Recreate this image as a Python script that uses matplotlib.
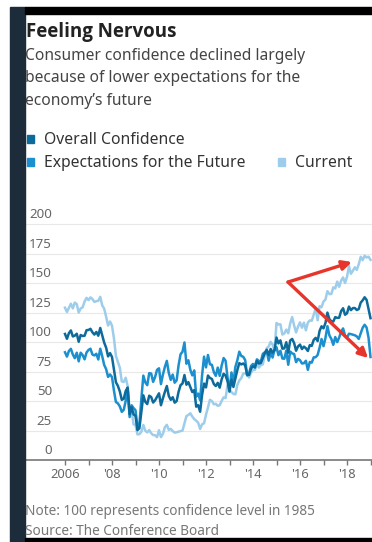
import numpy as np
import matplotlib
matplotlib.use("Agg")
import matplotlib.pyplot as plt
from matplotlib.patches import Rectangle
import matplotlib.transforms as mtransforms

# monthly readings, Jan 2006 - Jan 2019 (1985 = 100)
overall = [
    106.8, 102.7, 107.5, 109.8, 104.7, 105.4, 107.0, 100.2, 105.9, 105.1, 105.3, 110.0,
    110.2, 111.2, 108.2, 106.3, 108.5, 105.3, 111.9, 105.6, 99.5, 95.2, 87.8, 90.6,
    87.3, 76.4, 65.9, 62.8, 58.1, 51.0, 51.9, 58.5, 61.4, 38.8, 44.7, 38.6,
    37.4, 25.3, 26.9, 40.8, 54.8, 49.3, 47.4, 54.5, 53.4, 48.7, 50.6, 53.6,
    56.5, 46.4, 52.3, 57.7, 62.7, 54.3, 51.0, 53.2, 48.6, 49.9, 57.8, 63.4,
    64.8, 72.0, 63.8, 66.0, 61.7, 57.6, 59.2, 45.2, 46.4, 40.9, 55.2, 64.8,
    61.5, 71.6, 69.5, 68.7, 64.4, 62.7, 65.4, 61.3, 68.4, 73.1, 71.5, 66.7,
    58.4, 68.0, 61.9, 69.0, 76.2, 82.1, 81.0, 81.8, 80.2, 72.4, 72.0, 77.5,
    79.4, 78.3, 83.9, 81.7, 82.2, 86.4, 90.3, 93.4, 89.0, 94.1, 91.0, 93.1,
    103.8, 98.8, 101.4, 94.3, 94.6, 99.8, 91.0, 101.3, 102.6, 99.1, 92.6, 96.3,
    97.8, 94.0, 96.1, 94.7, 92.4, 97.4, 96.7, 101.8, 103.5, 100.8, 109.4, 113.3,
    111.6, 116.1, 124.9, 119.4, 117.6, 117.3, 121.1, 120.4, 120.6, 126.2, 128.6, 123.1,
    124.3, 130.0, 127.0, 128.7, 128.8, 127.1, 127.9, 133.4, 135.3, 137.9, 135.7, 128.1,
    120.2,
]
expectations = [
    91.3, 87.6, 92.4, 94.2, 89.4, 86.3, 90.9, 83.6, 90.9, 88.9, 85.3, 91.1,
    93.3, 94.3, 89.4, 88.6, 90.0, 85.2, 94.3, 88.0, 80.6, 77.0, 70.4, 72.5,
    70.3, 58.8, 49.1, 48.0, 45.4, 40.8, 42.5, 50.1, 60.0, 36.4, 46.4, 44.0,
    42.2, 27.9, 30.2, 51.9, 71.5, 65.8, 63.4, 73.6, 73.3, 66.2, 70.3, 76.4,
    77.7, 64.3, 72.4, 78.9, 84.0, 73.8, 67.9, 72.4, 65.5, 67.5, 80.3, 89.6,
    91.7, 99.6, 81.6, 84.5, 76.4, 71.7, 75.9, 53.7, 56.3, 50.6, 71.8, 87.6,
    78.5, 89.0, 81.1, 80.7, 74.5, 71.3, 78.3, 71.3, 80.1, 86.4, 84.1, 69.9,
    57.8, 74.2, 65.2, 78.9, 84.5, 91.8, 88.2, 87.5, 84.7, 71.6, 73.5, 79.7,
    81.4, 79.7, 85.3, 84.0, 83.4, 89.9, 91.3, 92.5, 84.2, 90.8, 86.8, 93.5,
    95.6, 88.8, 92.6, 86.0, 85.8, 92.7, 80.7, 91.9, 90.3, 89.8, 82.9, 85.7,
    84.6, 81.8, 82.0, 84.1, 76.4, 83.1, 82.5, 87.0, 87.1, 89.0, 95.2, 102.5,
    96.5, 103.4, 113.4, 105.6, 102.6, 97.6, 104.2, 99.9, 103.8, 108.7, 111.5, 105.5,
    103.7, 107.0, 106.7, 106.2, 105.7, 104.7, 102.6, 107.3, 112.1, 114.6, 112.3, 103.7,
    87.3,
]
current = [
    129.1, 125.4, 129.0, 132.4, 128.5, 133.4, 132.1, 125.0, 128.4, 129.4, 134.3, 137.4,
    135.5, 137.8, 136.4, 134.0, 134.6, 134.9, 138.3, 131.0, 128.3, 121.4, 113.9, 117.4,
    113.8, 103.1, 88.2, 83.1, 78.2, 66.6, 66.1, 69.7, 62.7, 41.9, 42.3, 30.2,
    29.7, 21.7, 21.9, 24.0, 29.7, 24.8, 23.4, 25.4, 22.7, 21.1, 21.0, 19.4,
    25.2, 19.4, 22.2, 27.8, 29.8, 25.5, 26.4, 24.5, 23.2, 23.5, 24.0, 24.5,
    24.9, 31.0, 37.2, 38.2, 39.6, 36.8, 34.6, 33.3, 31.6, 26.3, 30.3, 31.1,
    38.4, 44.5, 51.0, 50.0, 47.2, 47.6, 45.9, 46.4, 50.1, 53.1, 52.5, 63.5,
    60.1, 57.5, 56.0, 55.6, 63.6, 67.4, 69.3, 73.3, 73.4, 73.0, 69.9, 74.2,
    76.4, 76.4, 81.7, 78.3, 80.5, 81.0, 88.8, 94.7, 96.2, 100.1, 97.7, 92.5,
    116.1, 114.8, 115.0, 106.3, 107.3, 110.5, 107.4, 115.8, 121.1, 114.0, 108.1, 113.1,
    116.6, 112.1, 116.4, 109.9, 116.4, 118.3, 118.0, 123.0, 128.5, 118.4, 130.3, 129.5,
    134.3, 136.0, 143.1, 140.6, 140.7, 146.3, 145.4, 151.2, 146.8, 152.0, 154.7, 150.0,
    155.2, 164.3, 157.8, 160.4, 163.3, 161.1, 165.9, 172.2, 169.4, 173.1, 171.6, 172.3,
    169.6,
]
dates = 2006 + np.arange(len(overall)) / 12.0

yticks = [0, 25, 50, 75, 100, 125, 150, 175, 200]
year_ticks = list(range(2006, 2020))
year_labels = ["2006" if y == 2006 else ("'%02d" % (y % 100) if y % 2 == 0 else "")
               for y in year_ticks]

C_OVERALL = "#0d6b9b"
C_EXPECT = "#1c8fce"
C_CURRENT = "#9dcdeb"
C_ARROW = "#e8352b"

W, H = 372, 542
plt.rcParams["font.family"] = ["Noto Sans", "DejaVu Sans"]

fig = plt.figure(figsize=(W / 100, H / 100), dpi=100)


def fy(py):
    return 1 - py / H


def fx(px):
    return px / W


# frame: navy strip on the left, black bars top and bottom
fig.patches.append(Rectangle((fx(10), 0), fx(15), fy(7), transform=fig.transFigure,
                             color="#1d2c3b", zorder=0))
fig.patches.append(Rectangle((fx(25), fy(14)), fx(347), 7 / H, transform=fig.transFigure,
                             color="black", zorder=0))
fig.patches.append(Rectangle((fx(25), 0), fx(347), 4 / H, transform=fig.transFigure,
                             color="black", zorder=0))

# title block
fig.text(fx(26), fy(37), "Feeling Nervous", fontsize=13.5, fontweight="bold",
         family=["Open Sans", "DejaVu Sans"], color="#222222", va="baseline")
sub = ["Consumer confidence declined largely",
       "because of lower expectations for the",
       "economy\u2019s future"]
for i, line in enumerate(sub):
    fig.text(fx(25), fy(60 + 22.5 * i), line, fontsize=11.2, color="#444444", va="baseline")

# legend
legend_rows = [
    [(27, 144, C_OVERALL, "Overall Confidence")],
    [(27, 167, C_EXPECT, "Expectations for the Future"), (278, 167, C_CURRENT, "Current")],
]
for row in legend_rows:
    for x0, base, col, lab in row:
        fig.patches.append(Rectangle((fx(x0), fy(base - 1)), fx(7), 8 / H,
                                     transform=fig.transFigure, color=col))
        fig.text(fx(x0 + 17), fy(base), lab, fontsize=11.3, color="#333333", va="baseline")

# chart
ax = fig.add_axes([fx(25), fy(460), fx(347), (460 - 215) / H])
ax.plot(dates, current, color=C_CURRENT, lw=1.8, zorder=3)
ax.plot(dates, expectations, color=C_EXPECT, lw=1.8, zorder=4)
ax.plot(dates, overall, color=C_OVERALL, lw=1.8, zorder=5)

ax.set_xlim(2006 - 40 / 23.5, 2006 + 347 / 23.5 - 40 / 23.5)
ax.set_ylim(0, 245 / 1.18)

for s in ["top", "right", "left"]:
    ax.spines[s].set_visible(False)
ax.spines["bottom"].set_color("#777777")
ax.spines["bottom"].set_linewidth(1.2)
ax.spines["bottom"].set_zorder(6)

ax.set_yticks(yticks)
ax.yaxis.grid(True, color="#e8e8e8", lw=0.8)
ax.set_axisbelow(True)
ax.tick_params(axis="y", length=0, labelleft=False)
lab_tr = mtransforms.blended_transform_factory(ax.transAxes, ax.transData)
off = mtransforms.ScaledTranslation(0, 2 / 72, fig.dpi_scale_trans)
for v in yticks:
    ax.text(27 / 347, v, str(v), transform=lab_tr + off, ha="right", va="bottom",
            fontsize=9.6, color="#666666")

ax.set_xticks(year_ticks)
ax.set_xticklabels(year_labels)
ax.tick_params(axis="x", length=3.5, width=1, color="#777777", labelsize=9.3,
               labelcolor="#666666", pad=2)

# red arrows
start = (2015.49, 150.8)
for end in [(2018.21, 167.8), (2018.9, 86.4)]:
    ax.annotate("", xy=end, xytext=start,
                arrowprops=dict(arrowstyle="-|>", color=C_ARROW, lw=2.4,
                                mutation_scale=14, shrinkA=0, shrinkB=0),
                zorder=7)

# notes
fig.text(fx(25), fy(515), "Note: 100 represents confidence level in 1985",
         fontsize=9.8, color="#777777", va="baseline")
fig.text(fx(25), fy(535), "Source: The Conference Board",
         fontsize=9.8, color="#777777", va="baseline")

fig.savefig("out.png", dpi=100)
